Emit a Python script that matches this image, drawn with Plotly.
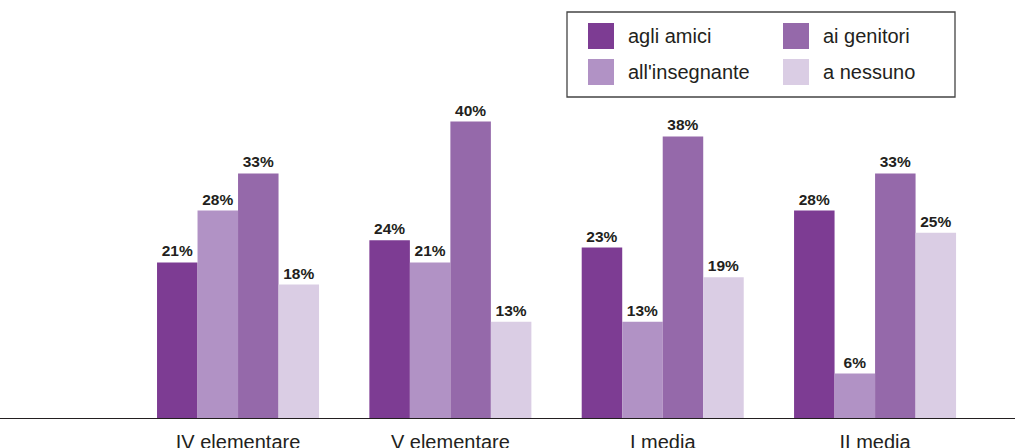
import plotly.graph_objects as go

categories = ["IV elementare", "V elementare", "I media", "II media"]
series_names = ["agli amici", "all'insegnante", "ai genitori", "a nessuno"]
agli_amici = [21, 24, 23, 28]
all_insegnante = [28, 21, 13, 6]
ai_genitori = [33, 40, 38, 33]
a_nessuno = [18, 13, 19, 25]
series_values = [agli_amici, all_insegnante, ai_genitori, a_nessuno]
colors = ["#7d3c93", "#b192c5", "#9569aa", "#dacde4"]

TEXT = "#231f20"
FONT = "Liberation Sans, Arial, Helvetica, sans-serif"
W, H = 1015, 448
MB = 30
PH = H - MB

fig = go.Figure()
for name, vals, col in zip(series_names, series_values, colors):
    fig.add_trace(go.Bar(
        x=categories, y=vals, name=name, marker=dict(color=col, line=dict(width=0)),
        texttemplate="%{y}%", textposition="outside",
        textfont=dict(family=FONT, size=15.5, color=TEXT, weight="bold"),
        cliponaxis=False, showlegend=False,
    ))

fig.update_layout(
    width=W, height=H,
    margin=dict(l=0, r=0, t=0, b=MB, autoexpand=False),
    paper_bgcolor="white", plot_bgcolor="white",
    barmode="group", bargap=0.237, bargroupgap=0,
    font=dict(family=FONT, color=TEXT),
    xaxis=dict(
        type="category", range=[-1.121, 3.659], showgrid=False, zeroline=False,
        showline=True, linecolor=TEXT, linewidth=1.3, ticks="",
        tickfont=dict(size=20, color=TEXT, family=FONT),
        ticklabelstandoff=6, automargin=False,
    ),
    yaxis=dict(range=[0, PH / 7.41], visible=False, showgrid=False, zeroline=False,
               automargin=False),
)

def py(p):
    return 1 - p / PH

# legend box
fig.add_shape(type="rect", xref="paper", yref="paper",
              x0=567 / W, x1=955 / W, y0=py(97), y1=py(12),
              line=dict(color="#444444", width=1.3), fillcolor="rgba(0,0,0,0)")

# legend entries laid out in 2 columns (row-major: amici, genitori / insegnante, nessuno)
legend_order = [0, 2, 1, 3]
col_x = [588, 783]
row_y = [23, 59]
for k, idx in enumerate(legend_order):
    r, c = divmod(k, 2)
    x0 = col_x[c]
    y0 = row_y[r]
    fig.add_shape(type="rect", xref="paper", yref="paper",
                  x0=x0 / W, x1=(x0 + 26) / W, y0=py(y0 + 26), y1=py(y0),
                  line=dict(width=0), fillcolor=colors[idx])
    fig.add_annotation(xref="paper", yref="paper", x=(x0 + 38) / W, y=py(y0 + 13),
                       text=series_names[idx], showarrow=False, xanchor="left", yanchor="middle",
                       font=dict(size=20, color=TEXT, family=FONT))

fig.write_html("out.html", config={"displayModeBar": False},
               post_script="document.body.style.margin='0';document.body.style.overflow='hidden';")
